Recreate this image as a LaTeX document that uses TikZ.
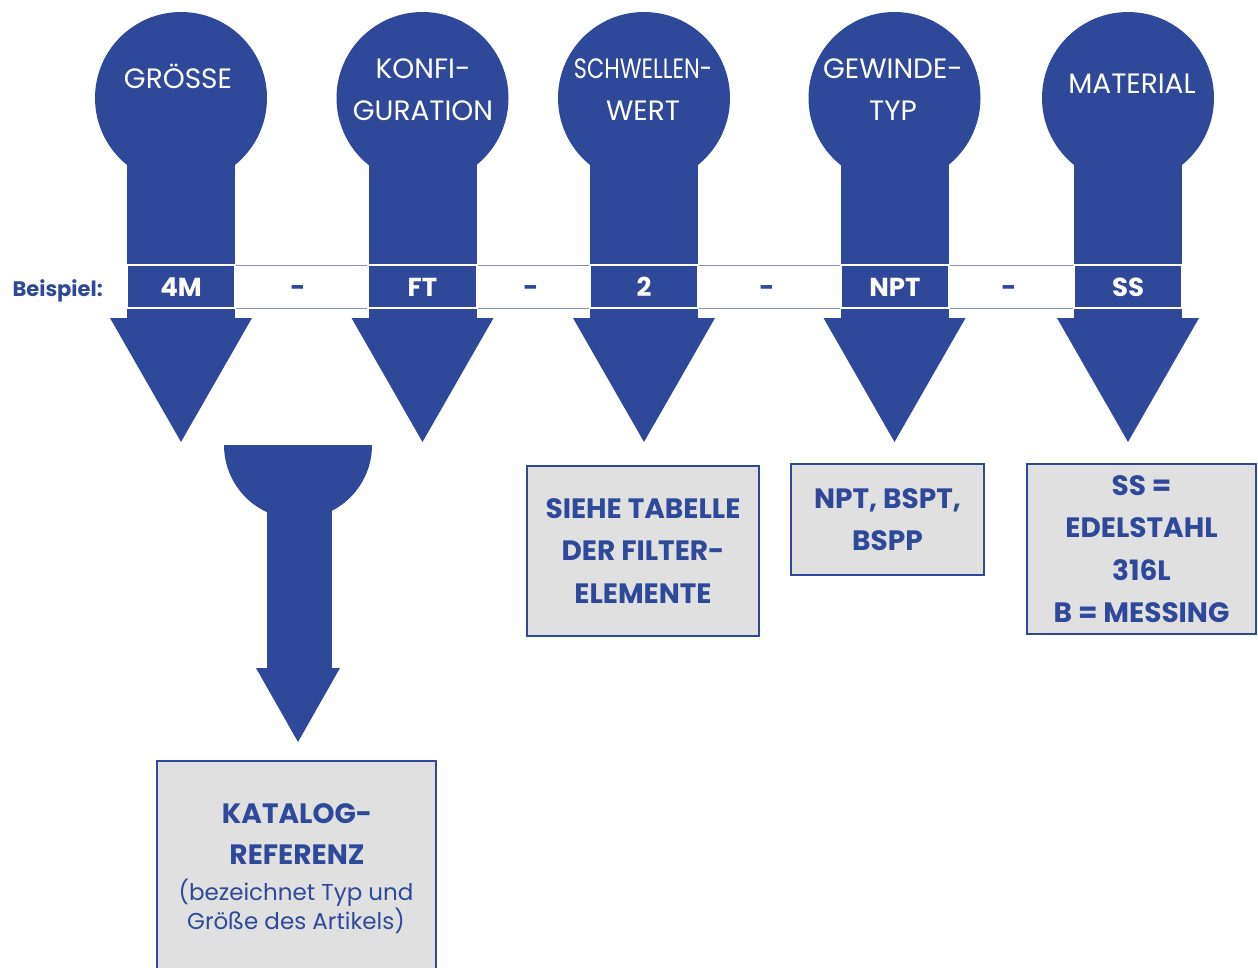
\documentclass[tikz,border=0pt]{standalone}
\usepackage{fontspec}
\setmainfont{Poppins}
\definecolor{pinblue}{RGB}{46,73,153}
\definecolor{boxgray}{RGB}{224,224,224}

\begin{document}
\begin{tikzpicture}[x=1pt,y=-1pt,
        head/.style={text=white,font=\fontsize{28}{42}\selectfont,anchor=base},
        code/.style={text=white,font=\bfseries\fontsize{26}{30}\selectfont,anchor=base},
        sep/.style={text=pinblue,font=\bfseries\fontsize{26}{30}\selectfont,anchor=base},
        infobox/.style={draw=pinblue,line width=2pt,fill=boxgray,text=pinblue,align=center,
            inner sep=0pt,font=\bfseries\fontsize{28}{42.5}\selectfont}]
        \useasboundingbox (0,0) rectangle (1258,967);
        % pins
        \foreach \x in {181,422.5,644,894.5,1128} {
            \fill[pinblue] (\x,98) circle (86);
            \fill[pinblue] (\x-54,150) rectangle (\x+54,319);
            \fill[pinblue] (\x-71,318) -- (\x+71,318) -- (\x,442) -- cycle;
        }
        \foreach \x/\y/\l [count=\i] in {178/88/GRÖSSE,423/78/KONFI-,423/120/GURATION,
                643/78/\scalebox{0.8}[1]{SCHWELLEN-},643/120/WERT,893/78/GEWINDE-,893/120/TYP,
                1132/93/MATERIAL} {
            \node[head] (head\i) at (\x,\y) {\l};
        }
        % example row
        \node[text=pinblue,font=\bfseries\fontsize{21}{24}\selectfont,anchor=base west] (beispiel) at (9,296) {Beispiel:};
        \draw[pinblue!60,line width=1pt] (127,265) rectangle (1182,308);
        \foreach \l/\r/\t in {127/235/4M,368/477/FT,590/698/2,841/949/NPT,1074/1182/SS} {
            \draw[fill=pinblue,draw=white,line width=1.5pt] (\l,265) rectangle (\r,308);
            \node[code] (val\t) at ({(\l+\r)/2},296) {\t};
        }
        \foreach \x in {298,531,767,1009} {
            \node[sep] (sep\x) at (\x,296) {-};
        }
        % catalogue pin
        \fill[pinblue] (224,445) arc[start angle=180,end angle=0,radius=74] -- cycle;
        \fill[pinblue] (267,500) rectangle (332,669);
        \fill[pinblue] (256,668) -- (340,668) -- (298,742) -- cycle;
        % boxes
        \node[infobox,minimum width=232,minimum height=170] (tabelle) at (643,551)
            {SIEHE TABELLE\\DER FILTER-\\ELEMENTE};
        \node[infobox,minimum width=193,minimum height=111] (gewinde) at (887.5,519.5)
            {NPT, BSPT,\\BSPP};
        \node[infobox,minimum width=229,minimum height=170] (material) at (1141.5,549)
            {SS =\\EDELSTAHL\\316L\\B = MESSING};
        \draw[draw=pinblue,line width=2pt,fill=boxgray] (157,761) rectangle (436,1000);
        \node[text=pinblue,align=center,font=\bfseries\fontsize{28}{41}\selectfont] (katalog) at (297,834)
            {KATALOG-\\REFERENZ};
        \node[text=pinblue,align=center,font=\fontsize{23}{29}\selectfont] (katalognote) at (296,906)
            {(bezeichnet Typ und\\Größe des Artikels)};
\end{tikzpicture}
\end{document}
